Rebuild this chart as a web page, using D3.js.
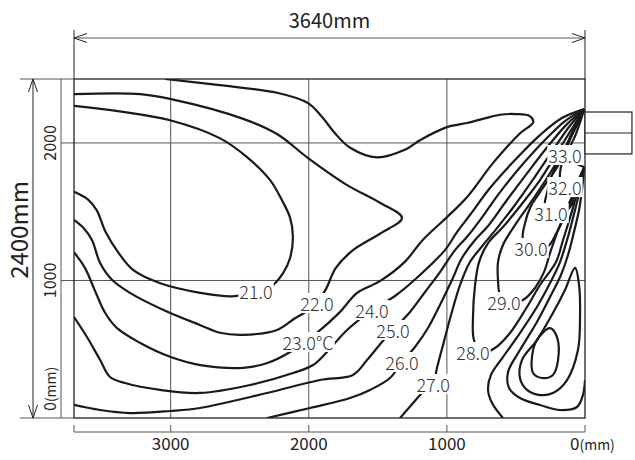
<!DOCTYPE html>
<html>
<head>
<meta charset="utf-8">
<script src="https://cdn.jsdelivr.net/npm/d3@7"></script>
<style>
  body { margin: 0; background: #fff; }
  text { font-family: "Noto Sans CJK JP", "Noto Sans", sans-serif; }
</style>
</head>
<body>
<svg id="chart" width="635" height="460"></svg>
<script>
// room size (dimension labels) and axis ticks, mm
const roomWidth = 3640;
const roomHeight = 2400;
const xTicks = [3000, 2000, 1000, 0];
const yTicks = [2000, 1000, 0];

// isotherms, [distance from wall mm, height mm]
const c21 = [[3700,2270],[3370,2230],[3005,2165],[2645,2035],[2445,1895],[2280,1730],[2195,1585],[2135,1455],[2115,1315],[2135,1165],[2185,1055],[2280,950],[2425,910],[2555,885],[2785,910],[3075,980],[3270,1075],[3380,1205],[3470,1350],[3535,1510],[3600,1590],[3700,1645]];
const c22 = [[3700,2355],[3220,2355],[3005,2320],[2475,2175],[2230,2065],[2005,1890],[1725,1695],[1485,1565],[1325,1455],[1485,1340],[1680,1220],[1805,1090],[1880,930],[1975,805],[2100,725],[2230,640],[2475,605],[2645,620],[2785,675],[3040,780],[3295,910],[3425,1005],[3510,1125],[3570,1295],[3625,1375],[3700,1440]];
const c23 = [[3700,1205],[3620,1090],[3550,930],[3475,765],[3390,655],[3220,545],[3005,445],[2785,385],[2475,365],[2300,400],[2135,480],[1935,625],[1775,770],[1650,910],[1485,995],[1305,1135],[1175,1295],[1000,1460],[855,1605],[665,1855],[470,2070],[375,2150],[400,2195],[505,2210],[615,2205],[740,2175],[855,2145],[1000,2115],[1195,2020],[1305,1950],[1505,1895],[1700,1965],[1810,2070],[1905,2190],[2005,2290],[2230,2365],[2645,2420],[3040,2465]];
const c24 = [[5,2246],[167,2181],[326,2057],[507,1876],[688,1672],[833,1476],[927,1352],[1014,1221],[1195,1040],[1376,887],[1542,785],[1723,640],[1868,480],[1969,385],[2114,327],[2425,240],[2787,182],[3077,204],[3330,254],[3439,298],[3511,422],[3606,589],[3700,734]];
const c25 = [[5,2246],[145,2159],[290,2021],[456,1839],[615,1643],[760,1439],[855,1316],[941,1221],[1050,1061],[1158,916],[1267,771],[1390,640],[1470,553],[1578,422],[1680,313],[1919,276],[2302,182],[2787,73],[3005,51],[3294,36],[3511,58],[3700,95]];
const c26 = [[5,2246],[130,2137],[261,1985],[413,1788],[565,1585],[702,1396],[796,1294],[891,1163],[963,1003],[1050,822],[1137,654],[1231,516],[1325,407],[1412,291],[1557,204],[1701,145],[1991,73],[2302,0]];
const c27 = [[5,2246],[116,2116],[232,1948],[369,1745],[507,1549],[637,1381],[738,1258],[833,1134],[905,967],[970,749],[1028,531],[1072,364],[1100,247],[1180,182],[1245,109],[1339,0]];
const c28 = [[5,2246],[101,2094],[203,1927],[326,1730],[463,1549],[601,1381],[702,1272],[767,1134],[796,967],[811,734],[804,567],[746,473],[652,509],[543,618],[420,807],[326,967],[210,1134],[159,1294],[109,1454],[65,1607],[29,1730],[5,1825]];
const c29 = [[5,2246],[87,2072],[174,1912],[275,1745],[391,1570],[507,1403],[594,1258],[630,1134],[630,1003],[615,894],[557,836],[449,858],[362,945],[297,1061],[253,1200],[203,1345],[145,1490],[87,1628],[43,1740],[5,1825]];
const c30 = [[5,2246],[72,2050],[145,1912],[239,1767],[326,1643],[398,1527],[434,1418],[449,1294],[391,1236],[268,1250],[203,1352],[138,1483],[80,1614],[43,1716],[5,1825]];
const c31 = [[5,2246],[58,2137],[116,2021],[181,1890],[239,1767],[275,1636],[290,1549],[246,1490],[138,1505],[72,1592],[36,1694],[5,1825]];
const c32 = [[5,2246],[51,2152],[101,2043],[145,1934],[174,1825],[181,1745],[145,1679],[72,1679],[36,1745],[5,1825]];
const c33 = [[5,2246],[43,2174],[87,2087],[130,1985],[145,1912],[94,1868],[43,1839],[5,1825]];
const floorA = [[594,0],[673,109],[702,204],[681,313],[594,443],[471,618],[348,807],[253,981],[181,1134],[130,1294],[87,1454],[51,1599],[29,1708],[5,1825]];
const floorB = [[0,276],[15,167],[58,80],[181,58],[326,95],[471,145],[550,218],[557,334],[471,494],[348,698],[253,880],[174,1040],[123,1185],[80,1352],[43,1512],[22,1658],[5,1825]];
const loopOuter = [[72,1091],[43,967],[36,734],[51,494],[130,276],[232,182],[326,167],[420,204],[471,291],[456,422],[348,567],[232,763],[145,931]];
const loopInner = [[253,654],[203,589],[195,422],[232,313],[311,291],[376,327],[384,443],[348,567]];

const openLines = [c21, c22, c23, c24, c25, c26, c27, c28, c29, c30, c31, c32, c33, floorA, floorB];
const closedLines = [loopOuter, loopInner];

// contour labels
const labelText = ["21.0", "22.0", "23.0℃", "24.0", "25.0", "26.0", "27.0", "28.0", "29.0", "30.0", "31.0", "32.0", "33.0"];
const labelX = [2382, 1940, 2005, 1542, 1390, 1325, 1100, 811, 586, 391, 246, 145, 145];
const labelY = [923, 836, 553, 785, 640, 407, 247, 480, 843, 1236, 1490, 1679, 1912];

// supply grille on the right wall
const inletTop = 2225, inletBottom = 1920, inletDepth = -340;

const svg = d3.select("#chart");
const pLeft = 74, pRight = 585, pTop = 79, pBottom = 418;

const x = d3.scaleLinear().domain([3700, 0]).range([pLeft, pRight]);
const y = d3.scaleLinear().domain([0, 2465]).range([pBottom, pTop]);

const ink = "#222";
const grey = "#555";

// grid
svg.append("g").selectAll("line")
  .data(xTicks.filter(d => d > 0))
  .enter().append("line")
  .attr("x1", d => x(d)).attr("x2", d => x(d))
  .attr("y1", pTop).attr("y2", pBottom)
  .attr("stroke", grey).attr("stroke-width", 1);

svg.append("g").selectAll("line")
  .data(yTicks.filter(d => d > 0))
  .enter().append("line")
  .attr("x1", 61).attr("x2", pRight)
  .attr("y1", d => y(d)).attr("y2", d => y(d))
  .attr("stroke", grey).attr("stroke-width", 1);

// isotherms
const line = d3.line()
  .x(d => x(d[0]))
  .y(d => y(d[1]))
  .curve(d3.curveCatmullRom.alpha(0.5));

const loop = d3.line()
  .x(d => x(d[0]))
  .y(d => y(d[1]))
  .curve(d3.curveCatmullRomClosed.alpha(0.5));

svg.append("clipPath").attr("id", "clip")
  .append("rect")
  .attr("x", pLeft).attr("y", pTop)
  .attr("width", pRight - pLeft).attr("height", pBottom - pTop);

const lines = svg.append("g").attr("clip-path", "url(#clip)");

lines.selectAll("path.open")
  .data(openLines)
  .enter().append("path")
  .attr("class", "open")
  .attr("d", line)
  .attr("fill", "none")
  .attr("stroke", "#1a1a1a")
  .attr("stroke-width", 2.2);

lines.selectAll("path.closed")
  .data(closedLines)
  .enter().append("path")
  .attr("class", "closed")
  .attr("d", loop)
  .attr("fill", "none")
  .attr("stroke", "#1a1a1a")
  .attr("stroke-width", 2.2);

// room outline
svg.append("rect")
  .attr("x", pLeft).attr("y", pTop)
  .attr("width", pRight - pLeft).attr("height", pBottom - pTop)
  .attr("fill", "none")
  .attr("stroke", ink).attr("stroke-width", 1.3);

// inlet box
svg.append("rect")
  .attr("x", x(0)).attr("y", y(inletTop))
  .attr("width", x(inletDepth) - x(0))
  .attr("height", y(inletBottom) - y(inletTop))
  .attr("fill", "#fff")
  .attr("stroke", ink).attr("stroke-width", 1.2);
svg.append("line")
  .attr("x1", x(0)).attr("x2", x(inletDepth))
  .attr("y1", y((inletTop + inletBottom) / 2)).attr("y2", y((inletTop + inletBottom) / 2))
  .attr("stroke", ink).attr("stroke-width", 1.2);

// contour labels with white background
const lab = svg.append("g");
labelText.forEach((t, i) => {
  const g = lab.append("g");
  const txt = g.append("text")
    .attr("x", x(labelX[i]))
    .attr("y", y(labelY[i]))
    .attr("text-anchor", "middle")
    .attr("dominant-baseline", "central")
    .attr("font-size", 18)
    .attr("font-weight", 300)
    .attr("fill", "#333")
    .text(t);
  const bb = txt.node().getBBox();
  g.insert("rect", "text")
    .attr("x", bb.x - 1).attr("y", bb.y + 3)
    .attr("width", bb.width + 2).attr("height", bb.height - 6)
    .attr("fill", "#fff");
});

// y axis line and ticks
svg.append("line")
  .attr("x1", 61).attr("x2", 61).attr("y1", pTop).attr("y2", pBottom)
  .attr("stroke", grey);

svg.selectAll("text.ylab")
  .data(yTicks)
  .enter().append("text")
  .attr("class", "ylab")
  .attr("transform", d => d === 0
    ? `translate(56,${y(0) - 7}) rotate(-90)`
    : `translate(56,${y(d)}) rotate(-90)`)
  .attr("text-anchor", d => d === 0 ? "start" : "middle")
  .attr("font-size", 16)
  .attr("fill", ink)
  .each(function(d) {
    const t = d3.select(this);
    if (d === 0) {
      t.append("tspan").text("0");
      t.append("tspan").attr("font-size", 14).text("(mm)");
    } else {
      t.text(d);
    }
  });

// x axis bracket
const bracketY = 432;
svg.append("line")
  .attr("x1", pLeft).attr("x2", pRight).attr("y1", bracketY).attr("y2", bracketY)
  .attr("stroke", grey);
svg.selectAll("line.xt")
  .data([3700].concat(xTicks))
  .enter().append("line")
  .attr("class", "xt")
  .attr("x1", d => x(d)).attr("x2", d => x(d))
  .attr("y1", bracketY - 7).attr("y2", bracketY)
  .attr("stroke", grey);

svg.selectAll("text.xlab")
  .data(xTicks)
  .enter().append("text")
  .attr("class", "xlab")
  .attr("x", d => d === 0 ? x(0) - 15 : x(d))
  .attr("y", 450)
  .attr("text-anchor", d => d === 0 ? "start" : "middle")
  .attr("font-size", 17)
  .attr("fill", ink)
  .each(function(d) {
    const t = d3.select(this);
    if (d === 0) {
      t.append("tspan").text("0");
      t.append("tspan").attr("font-size", 14).text("(mm)");
    } else {
      t.text(d);
    }
  });

// dimension lines
function chevron(px, py, dir, vertical) {
  const a = 13, b = 4.5;
  const pts = vertical
    ? [[px - b, py + dir * a], [px, py], [px + b, py + dir * a]]
    : [[px + dir * a, py - b], [px, py], [px + dir * a, py + b]];
  svg.append("path")
    .attr("d", d3.line()(pts))
    .attr("fill", "none").attr("stroke", ink).attr("stroke-width", 1);
}

const dimY = 38;
svg.append("line").attr("x1", pLeft).attr("x2", pLeft).attr("y1", 30).attr("y2", pTop).attr("stroke", ink);
svg.append("line").attr("x1", pRight).attr("x2", pRight).attr("y1", 30).attr("y2", pTop).attr("stroke", ink);
svg.append("line").attr("x1", pLeft).attr("x2", pRight).attr("y1", dimY).attr("y2", dimY).attr("stroke", grey);
chevron(pLeft, dimY, 1, false);
chevron(pRight, dimY, -1, false);
svg.append("text")
  .attr("x", (pLeft + pRight) / 2).attr("y", 28)
  .attr("text-anchor", "middle")
  .attr("font-size", 20).attr("fill", ink)
  .text(roomWidth + "mm");

const dimX = 33;
svg.append("line").attr("x1", 20).attr("x2", pLeft).attr("y1", pTop).attr("y2", pTop).attr("stroke", grey);
svg.append("line").attr("x1", 20).attr("x2", pLeft).attr("y1", pBottom).attr("y2", pBottom).attr("stroke", grey);
svg.append("line").attr("x1", dimX).attr("x2", dimX).attr("y1", pTop).attr("y2", pBottom).attr("stroke", ink);
chevron(dimX, pTop, 1, true);
chevron(dimX, pBottom, -1, true);
svg.append("text")
  .attr("transform", `translate(28,230) rotate(-90)`)
  .attr("text-anchor", "middle")
  .attr("font-size", 24).attr("fill", ink)
  .text(roomHeight + "mm");
</script>
</body>
</html>
